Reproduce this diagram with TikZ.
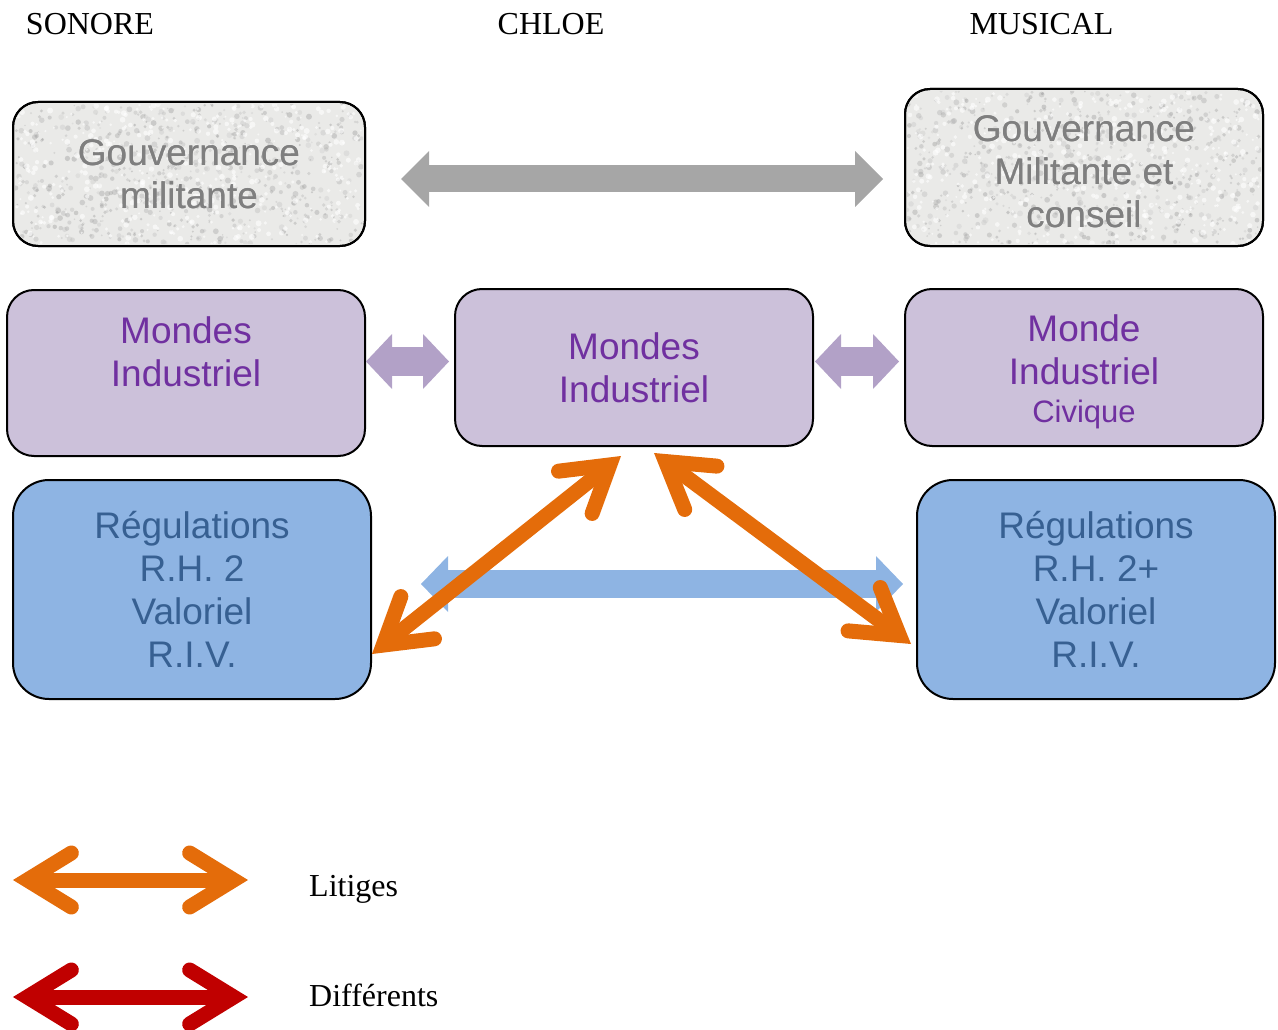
\documentclass[tikz,border=0pt]{standalone}
\usepackage{fontspec}
\setmainfont{Liberation Serif}
\newfontfamily\arialf{Liberation Sans}
\usetikzlibrary{arrows.meta}
\definecolor{boxgray}{HTML}{EAEAE8}
\definecolor{txtgray}{HTML}{7F7F7F}
\definecolor{arrgray}{HTML}{A6A6A6}
\definecolor{lav}{HTML}{CCC1DA}
\definecolor{purptxt}{HTML}{7030A0}
\definecolor{purparr}{HTML}{B2A1C7}
\definecolor{bluebox}{HTML}{8EB4E3}
\definecolor{bluetxt}{HTML}{376092}
\definecolor{orangeC}{HTML}{E46C0A}
\definecolor{redC}{HTML}{C00000}
\tikzset{
  box/.style={draw=black, line width=2pt, align=center, inner sep=0pt,
    font=\arialf\fontsize{37}{43}\selectfont},
  gouvbox/.style={box, fill=boxgray, text=txtgray, rounded corners=25pt},
  mondebox/.style={box, fill=lav, text=purptxt, rounded corners=27pt},
  regbox/.style={box, fill=bluebox, text=bluetxt, rounded corners=36pt},
  title/.style={font=\fontsize{32}{38}\selectfont, anchor=base, inner sep=0pt},
  legtext/.style={font=\fontsize{32}{38}\selectfont, anchor=base west, inner sep=0pt},
  litige/.style={draw=orangeC, line width=15pt, {Straight Barb[length=44pt,width=54pt,line cap=round,line join=miter]}-{Straight Barb[length=44pt,width=54pt,line cap=round,line join=miter]}},
  diff/.style={draw=redC, line width=15pt, {Straight Barb[length=44pt,width=54pt,line cap=round,line join=miter]}-{Straight Barb[length=44pt,width=54pt,line cap=round,line join=miter]}}
}
\begin{document}
\begin{tikzpicture}[x=1pt,y=-1pt]
\useasboundingbox (0,0) rectangle (1278,1030);

% titles
\node[title] (tS) at (90,35) {SONORE};
\node[title] (tC) at (551,35) {CHLOE};
\node[title] (tM) at (1041.5,35) {MUSICAL};

% gouvernance boxes
\node[gouvbox, minimum width=352pt, minimum height=144pt] (gL) at (189,174) {Gouvernance\\militante};
\node[gouvbox, minimum width=358pt, minimum height=157pt] (gR) at (1084,167.5) {\rule{0pt}{35pt}Gouvernance\\Militante et\\conseil};

% texture
\pgfmathsetseed{7}
\foreach \bx/\by/\bw/\bh in {15/104/348/140, 907/91/354/153}{
  \begin{scope}
    \clip[rounded corners=23pt] (\bx,\by) rectangle ++(\bw,\bh);
    \foreach \i in {1,...,700}{
      \pgfmathsetmacro\rx{\bx+\bw*rnd}
      \pgfmathsetmacro\ry{\by+\bh*rnd}
      \pgfmathsetmacro\rr{0.8+2.2*rnd}
      \pgfmathsetmacro\rc{20+25*rnd}
      \fill[black!\rc, opacity=0.35] (\rx,\ry) circle (\rr);
    }
    \foreach \i in {1,...,400}{
      \pgfmathsetmacro\rx{\bx+\bw*rnd}
      \pgfmathsetmacro\ry{\by+\bh*rnd}
      \pgfmathsetmacro\rr{1+2*rnd}
      \fill[white, opacity=0.6] (\rx,\ry) circle (\rr);
    }
  \end{scope}
}
% redraw text and border over texture
\node[gouvbox, fill=none, minimum width=352pt, minimum height=144pt] at (gL) {Gouvernance\\militante};
\node[gouvbox, fill=none, minimum width=358pt, minimum height=157pt] at (gR) {\rule{0pt}{35pt}Gouvernance\\Militante et\\conseil};

% mondes boxes
\node[mondebox, minimum width=358pt, minimum height=166pt] (mL) at (186,373) {Mondes\\Industriel\\~};
\node[mondebox, minimum width=358pt, minimum height=157pt] (mC) at (634,367.5) {Mondes\\Industriel};
\node[mondebox, minimum width=358pt, minimum height=157pt] (mR) at (1084,367.5) {\rule{0pt}{36pt}Monde\\Industriel\\[-5pt]{\fontsize{31}{40}\selectfont Civique}};

% regulations boxes
\node[regbox, minimum width=358pt, minimum height=219pt] (rL) at (192,589.5) {Régulations\\R.H. 2\\Valoriel\\R.I.V.};
\node[regbox, minimum width=358pt, minimum height=219pt] (rR) at (1096,589.5) {Régulations\\R.H. 2+\\Valoriel\\R.I.V.};

% block arrow end points
\coordinate (ga) at (401,179);
\coordinate (gb) at (883,179);
\coordinate (pa) at (366,361.5);
\coordinate (pb) at (449,361.5);
\coordinate (pc) at (815,361.5);
\coordinate (pd) at (899,361.5);
\coordinate (ba) at (421,584);
\coordinate (bb) at (903,584);

\draw[arrgray, line width=27pt, {Triangle[length=28pt,width=56pt,line width=0pt]}-{Triangle[length=28pt,width=56pt,line width=0pt]}] (ga) -- (gb);
\draw[purparr, line width=29pt, {Triangle[length=26pt,width=55pt,line width=0pt]}-{Triangle[length=26pt,width=55pt,line width=0pt]}] (pa) -- (pb);
\draw[purparr, line width=29pt, {Triangle[length=26pt,width=55pt,line width=0pt]}-{Triangle[length=26pt,width=55pt,line width=0pt]}] (pc) -- (pd);
\draw[bluebox, line width=28pt, {Triangle[length=27pt,width=56pt,line width=0pt]}-{Triangle[length=27pt,width=56pt,line width=0pt]}] (ba) -- (bb);

% orange litiges arrows
\coordinate (oa) at (372,654);
\coordinate (ob) at (621,456);
\coordinate (oc) at (654,453);
\coordinate (od) at (911,644);
\draw[litige] (oa) -- (ob);
\draw[litige] (oc) -- (od);

% legend
\coordinate (la) at (13,880);
\coordinate (lb) at (248,880);
\coordinate (lc) at (13,997);
\coordinate (ld) at (248,997);
\draw[litige] (la) -- (lb);
\draw[diff] (lc) -- (ld);
\node[legtext] (lt1) at (309,896) {Litiges};
\node[legtext] (lt2) at (309,1006) {Différents};
\end{tikzpicture}
\end{document}
